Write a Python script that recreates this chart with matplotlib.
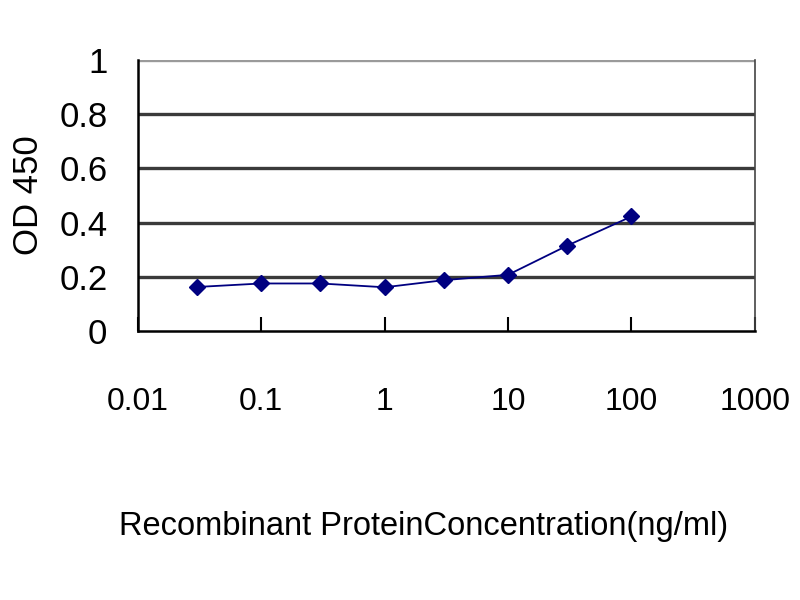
import matplotlib
matplotlib.use('Agg')
import matplotlib.pyplot as plt

# data
conc = [0.03, 0.1, 0.3, 1, 3, 10, 30, 100]
od450 = [0.163, 0.176, 0.176, 0.162, 0.188, 0.208, 0.315, 0.423]

x_ticks = [0.01, 0.1, 1, 10, 100, 1000]
x_tick_labels = ['0.01', '0.1', '1', '10', '100', '1000']
y_ticks = [0, 0.2, 0.4, 0.6, 0.8, 1]
y_tick_labels = ['0', '0.2', '0.4', '0.6', '0.8', '1']

plt.rcParams['font.family'] = ['Liberation Sans', 'DejaVu Sans']

fig = plt.figure(figsize=(8, 6), dpi=100)
ax = fig.add_axes([0.1725, 0.448, 0.771, 0.452])

# horizontal gridlines
for yv in y_ticks[1:]:
    ax.axhline(yv, color='#3a3a3a' if yv < 1 else '#9a9a9a', lw=2.4, zorder=1)

ax.plot(conc, od450, color='#000080', lw=1.3, marker='D', markersize=8,
        markerfacecolor='#000080', markeredgecolor='#000080', zorder=3)

ax.set_xscale('log')
ax.set_xlim(0.01, 1000)
ax.set_ylim(0, 1)
ax.set_xticks(x_ticks)
ax.set_xticklabels(x_tick_labels)
ax.minorticks_off()
ax.set_yticks(y_ticks)
ax.set_yticklabels(y_tick_labels)

ax.tick_params(axis='x', direction='in', length=10, width=1.5, pad=40,
               labelsize=23, colors='black')
ax.tick_params(axis='y', length=0, pad=22, labelsize=25)

for side in ['left', 'bottom']:
    ax.spines[side].set_linewidth(1.8)
    ax.spines[side].set_color('black')
ax.spines['right'].set_linewidth(1.2)
ax.spines['right'].set_color('#444444')
ax.spines['top'].set_visible(False)

ax.set_ylabel('OD 450', fontsize=25, labelpad=10)
fig.text(0.53, 0.123, 'Recombinant ProteinConcentration(ng/ml)',
         ha='center', va='center', fontsize=23.5)

fig.savefig('out.png', dpi=100)
